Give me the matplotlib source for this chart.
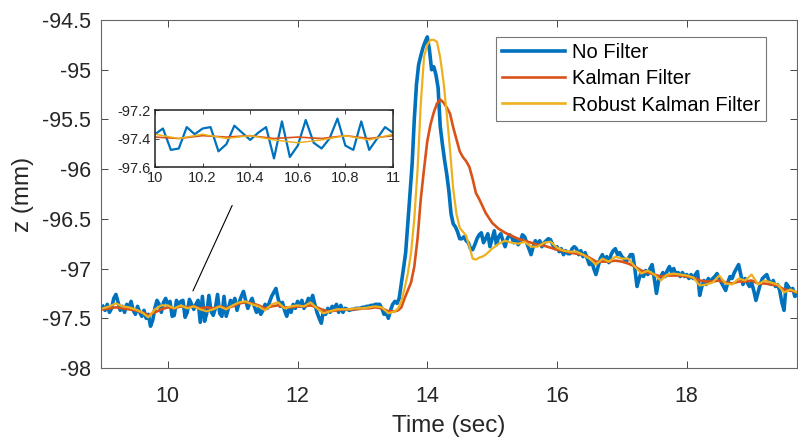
import numpy as np
import matplotlib
matplotlib.use('Agg')
import matplotlib.pyplot as plt
from matplotlib.ticker import FuncFormatter

plt.rcParams['font.family'] = ['Liberation Sans', 'DejaVu Sans']
plt.rcParams['axes.unicode_minus'] = False

# raw z position, sampled at 30 Hz from t = 9 s (one row per second)
z_raw = (
    [-97.38, -97.42, -97.36, -97.44, -97.40, -97.30, -97.26, -97.34, -97.42, -97.38,
     -97.44, -97.36, -97.40, -97.33, -97.42, -97.46, -97.38, -97.44, -97.48, -97.42,
     -97.50, -97.46, -97.58, -97.52, -97.40, -97.32, -97.36, -97.44, -97.34, -97.30] +
    [-97.37, -97.33, -97.48, -97.47, -97.32, -97.37, -97.33, -97.32, -97.49, -97.44,
     -97.31, -97.36, -97.41, -97.36, -97.32, -97.54, -97.28, -97.53, -97.45, -97.27,
     -97.43, -97.47, -97.40, -97.26, -97.45, -97.48, -97.28, -97.48, -97.40, -97.32] +
    [-97.36, -97.30, -97.42, -97.34, -97.28, -97.23, -97.32, -97.40, -97.34, -97.30,
     -97.38, -97.44, -97.40, -97.46, -97.42, -97.36, -97.40, -97.34, -97.28, -97.24,
     -97.20, -97.30, -97.38, -97.34, -97.42, -97.48, -97.40, -97.44, -97.36, -97.40] +
    [-97.33, -97.38, -97.32, -97.40, -97.36, -97.30, -97.34, -97.27, -97.36, -97.44,
     -97.50, -97.55, -97.42, -97.46, -97.40, -97.44, -97.38, -97.40, -97.36, -97.44,
     -97.37, -97.44, -97.40, -97.41, -97.42, -97.41, -97.41, -97.40, -97.40, -97.40] +
    [-97.39, -97.39, -97.38, -97.38, -97.37, -97.37, -97.36, -97.36, -97.36, -97.40,
     -97.46, -97.44, -97.50, -97.42, -97.36, -97.33, -97.35, -97.30, -97.15, -97.00,
     -96.84, -96.55, -96.25, -95.95, -95.50, -95.15, -94.95, -94.86, -94.78, -94.72] +
    [-94.67, -94.80, -95.00, -94.97, -95.05, -95.18, -95.57, -95.75, -95.91, -96.05,
     -96.22, -96.45, -96.55, -96.58, -96.63, -96.70, -96.70, -96.68, -96.72, -96.74,
     -96.80, -96.81, -96.76, -96.70, -96.66, -96.64, -96.74, -96.70, -96.65, -96.78] +
    [-96.70, -96.62, -96.76, -96.68, -96.65, -96.72, -96.78, -96.70, -96.66, -96.68,
     -96.74, -96.70, -96.76, -96.73, -96.66, -96.68, -96.74, -96.80, -96.86, -96.78,
     -96.72, -96.76, -96.72, -96.78, -96.74, -96.72, -96.70, -96.71, -96.76, -96.80] +
    [-96.78, -96.83, -96.80, -96.86, -96.82, -96.85, -96.85, -96.80, -96.78, -96.80,
     -96.86, -96.82, -96.88, -96.84, -96.90, -96.96, -96.92, -97.00, -97.06, -96.98,
     -96.90, -96.86, -96.92, -96.88, -96.94, -96.86, -96.82, -96.80, -96.86, -96.84] +
    [-96.88, -96.90, -96.93, -96.90, -96.86, -96.86, -97.00, -97.18, -97.10, -97.04,
     -97.08, -97.02, -97.06, -97.00, -96.96, -97.10, -97.25, -97.12, -97.08, -97.04,
     -97.08, -97.02, -96.98, -97.04, -97.00, -97.06, -97.04, -97.08, -97.04, -97.08] +
    [-97.06, -97.10, -97.06, -97.10, -97.06, -97.03, -97.27, -97.18, -97.12, -97.16,
     -97.10, -97.14, -97.10, -97.08, -97.05, -97.10, -97.14, -97.18, -97.22, -97.14,
     -97.08, -97.10, -97.04, -97.00, -96.96, -97.06, -97.16, -97.10, -97.14, -97.18] +
    [-97.14, -97.22, -97.32, -97.24, -97.16, -97.10, -97.08, -97.06, -97.12, -97.16,
     -97.12, -97.18, -97.16, -97.22, -97.34, -97.42, -97.15, -97.18, -97.22, -97.20,
     -97.28, -97.26]
)
t_raw = 9 + np.arange(len(z_raw)) / 30

# filter outputs: 0.1 s steps, 0.05 s around the step response
t_filt = np.concatenate([np.arange(90, 136) / 10,
                         np.arange(271, 301) / 20,
                         np.arange(151, 198) / 10])

z_kalman = (
    [-97.41, -97.40, -97.39, -97.40, -97.41, -97.42, -97.44, -97.47, -97.44, -97.41,
     -97.39, -97.40, -97.38, -97.39, -97.38, -97.40, -97.39, -97.40, -97.38, -97.40,
     -97.38, -97.35, -97.34, -97.35, -97.37, -97.40, -97.38, -97.37, -97.39, -97.39,
     -97.38, -97.38, -97.37, -97.39, -97.42, -97.43, -97.42, -97.41, -97.41, -97.41,
     -97.40, -97.40, -97.39, -97.40, -97.43, -97.43] +
    [-97.42, -97.39, -97.30, -97.22, -97.14, -96.98, -96.70, -96.30, -96.00, -95.72,
     -95.55, -95.43, -95.34, -95.30, -95.33, -95.38, -95.44, -95.58, -95.70, -95.82,
     -95.88, -95.92, -95.98, -96.10, -96.24, -96.30, -96.37, -96.44, -96.49, -96.54] +
    [-96.60, -96.64, -96.67, -96.70, -96.72, -96.74, -96.76, -96.77, -96.79, -96.81,
     -96.82, -96.84, -96.85, -96.86, -96.89, -96.93, -96.93, -96.93, -96.92, -96.93,
     -96.95, -96.98, -97.02, -97.04, -97.06, -97.08, -97.07, -97.07, -97.07, -97.08,
     -97.09, -97.12, -97.13, -97.13, -97.12, -97.14, -97.15, -97.13, -97.13, -97.12,
     -97.15, -97.15, -97.16, -97.17, -97.21, -97.22, -97.24]
)

z_robust = (
    [-97.40, -97.38, -97.35, -97.38, -97.39, -97.41, -97.44, -97.49, -97.41, -97.37,
     -97.37, -97.40, -97.37, -97.40, -97.38, -97.41, -97.43, -97.41, -97.38, -97.41,
     -97.37, -97.34, -97.33, -97.36, -97.38, -97.42, -97.36, -97.34, -97.40, -97.38,
     -97.37, -97.38, -97.34, -97.40, -97.45, -97.43, -97.41, -97.41, -97.41, -97.40,
     -97.40, -97.39, -97.38, -97.39, -97.45, -97.43] +
    [-97.40, -97.33, -97.20, -97.05, -96.84, -96.50, -96.01, -95.34, -94.87, -94.75,
     -94.70, -94.70, -94.72, -94.88, -95.12, -95.44, -95.80, -96.20, -96.45, -96.59,
     -96.63, -96.67, -96.78, -96.90, -96.91, -96.89, -96.88, -96.86, -96.83, -96.80] +
    [-96.75, -96.72, -96.74, -96.75, -96.73, -96.78, -96.78, -96.74, -96.73, -96.79,
     -96.82, -96.83, -96.83, -96.86, -96.90, -96.96, -96.90, -96.93, -96.88, -96.90,
     -96.90, -96.98, -97.05, -97.02, -97.06, -97.12, -97.06, -97.05, -97.06, -97.07,
     -97.09, -97.17, -97.16, -97.14, -97.07, -97.15, -97.16, -97.10, -97.12, -97.06,
     -97.16, -97.12, -97.14, -97.16, -97.24, -97.21, -97.24]
)

labels = ['No Filter', 'Kalman Filter', 'Robust Kalman Filter']
colors = ['#0072BD', '#D95319', '#EDB120']

fmt = FuncFormatter(lambda v, p: '%g' % v)
txt = '#262626'

fig = plt.figure(figsize=(7.98, 4.43), dpi=100)
ax = fig.add_axes([101 / 798, 75 / 443, 696 / 798, 348 / 443])

ax.plot(t_raw, z_raw, color=colors[0], lw=2.6, label=labels[0])
ax.plot(t_filt, z_kalman, color=colors[1], lw=1.9, label=labels[1])
ax.plot(t_filt, z_robust, color=colors[2], lw=1.6, label=labels[2])

ax.set_xlim(8.97, 19.7)
ax.set_ylim(-98, -94.5)
ax.set_xticks([10, 12, 14, 16, 18])
ax.set_yticks(np.arange(-98, -94.4, 0.5))
ax.xaxis.set_major_formatter(fmt)
ax.yaxis.set_major_formatter(fmt)
ax.tick_params(direction='in', length=5, width=0.6, top=True, right=True,
               labelsize=15.5, colors=txt)
ax.tick_params(axis='x', pad=13)
ax.tick_params(axis='y', pad=7)
for s in ax.spines.values():
    s.set_color('#666666')
    s.set_linewidth(0.8)
ax.set_xlabel('Time (sec)', fontsize=17.5, color=txt, labelpad=6)
ax.set_ylabel('z (mm)', fontsize=17.5, color=txt, labelpad=6)

leg = ax.legend(loc='upper right', bbox_to_anchor=(766 / 798, 406 / 443),
                bbox_transform=fig.transFigure, fontsize=14.5, frameon=True,
                fancybox=False, borderpad=0.3, labelspacing=0.36,
                handlelength=3.1, handletextpad=0.35, borderaxespad=0)
leg.get_frame().set_edgecolor('#555555')
leg.get_frame().set_linewidth(0.8)
for h in leg.get_lines():
    h.set_linewidth(2.6 if h.get_label() == labels[0] else 1.9)

# pointer from the zoomed window down to the trace
ax.annotate('', xy=(10.37, -97.25), xytext=(11.01, -96.34),
            arrowprops=dict(arrowstyle='-', color='k', lw=0.8))

ins = fig.add_axes([155 / 798, 276 / 443, 238 / 798, 57 / 443])
ins.plot(t_raw, z_raw, color=colors[0], lw=1.6)
ins.plot(t_filt, z_kalman, color=colors[1], lw=1.2)
ins.plot(t_filt, z_robust, color=colors[2], lw=1.1)
ins.set_xlim(10, 11)
ins.set_ylim(-97.6, -97.2)
ins.set_xticks(np.arange(10, 11.01, 0.2))
ins.set_yticks([-97.6, -97.4, -97.2])
ins.xaxis.set_major_formatter(fmt)
ins.yaxis.set_major_formatter(fmt)
ins.tick_params(direction='in', length=3, width=0.6, top=True, right=True,
                labelsize=10.5, colors=txt, pad=3)
for s in ins.spines.values():
    s.set_color('#222222')
    s.set_linewidth(1.1)

fig.savefig('out.png', dpi=100)
